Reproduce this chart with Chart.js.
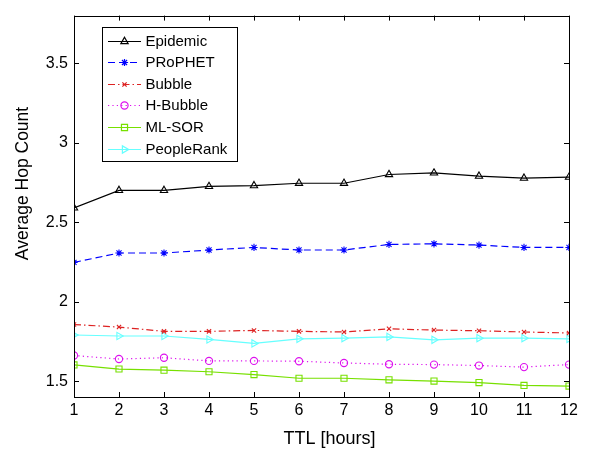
<!DOCTYPE html>
<html><head><meta charset="utf-8">
<script src="https://cdn.jsdelivr.net/npm/chart.js@4"></script>
<style>html,body{margin:0;padding:0;background:#fff}#wrap{width:590px;height:449px;position:relative}</style>
</head><body><div id="wrap"><canvas id="c" width="590" height="449"></canvas></div>
<script>
const ttl = [1,2,3,4,5,6,7,8,9,10,11,12];
const yTickValues = [1.5, 2, 2.5, 3, 3.5];
const epidemic   = [2.59, 2.70, 2.70, 2.725, 2.73, 2.745, 2.745, 2.80, 2.81, 2.79, 2.777, 2.783];
const prophet    = [2.247, 2.306, 2.306, 2.325, 2.341, 2.325, 2.325, 2.36, 2.364, 2.356, 2.341, 2.341];
const bubble     = [1.856, 1.84, 1.813, 1.813, 1.819, 1.813, 1.809, 1.829, 1.821, 1.817, 1.809, 1.803];
const hBubble    = [1.661, 1.639, 1.647, 1.627, 1.627, 1.625, 1.614, 1.606, 1.604, 1.598, 1.588, 1.604];
const mlSor      = [1.602, 1.576, 1.569, 1.559, 1.541, 1.518, 1.518, 1.508, 1.50, 1.491, 1.473, 1.469];
const peopleRank = [1.79, 1.784, 1.784, 1.762, 1.737, 1.766, 1.77, 1.778, 1.76, 1.77, 1.77, 1.766];
const seriesNames = ['Epidemic', 'PRoPHET', 'Bubble', 'H-Bubble', 'ML-SOR', 'PeopleRank'];
const xTitle = 'TTL [hours]';
const yTitle = 'Average Hop Count';

const toPts = arr => ttl.map((t, i) => ({x: t, y: arr[i]}));
const styles = [
  {color: '#000000', dash: [], point: 'triangle', r: 4.2, rot: 0},
  {color: '#0000ff', dash: [7, 4], point: 'star', r: 3.6, rot: 0},
  {color: '#dd2222', dash: [7, 3, 1.5, 3], point: 'crossRot', r: 3, rot: 0},
  {color: '#dd11ee', dash: [1.2, 3.2], point: 'circle', r: 3.6, rot: 0},
  {color: '#77e000', dash: [], point: 'rect', r: 4.3, rot: 0},
  {color: '#66ffff', dash: [], point: 'triangle', r: 4.2, rot: 90}
];
const allData = [epidemic, prophet, bubble, hBubble, mlSor, peopleRank];
const datasets = allData.map((arr, i) => ({
  label: seriesNames[i],
  data: toPts(arr),
  borderColor: styles[i].color,
  backgroundColor: 'rgba(0,0,0,0)',
  borderWidth: 1.2,
  borderDash: styles[i].dash,
  pointStyle: styles[i].point,
  pointRadius: styles[i].r,
  pointRotation: styles[i].rot,
  pointBorderColor: styles[i].color,
  pointBackgroundColor: 'rgba(0,0,0,0)',
  pointBorderWidth: 1.1,
  tension: 0,
  fill: false
}));

const FONT = '"Liberation Sans", Arial, sans-serif';
const frame = {
  id: 'frame',
  afterDatasetsDraw(chart) {
    const {ctx, chartArea: a} = chart;
    const xs = chart.scales.x, ys = chart.scales.y;
    ctx.save();
    ctx.strokeStyle = '#000';
    ctx.lineWidth = 1;
    ctx.setLineDash([]);
    ctx.strokeRect(Math.round(a.left) + 0.5, Math.round(a.top) + 0.5, Math.round(a.right - a.left), Math.round(a.bottom - a.top));
    const tl = 5;
    ctx.beginPath();
    ttl.forEach(v => {
      const px = Math.round(xs.getPixelForValue(v)) + 0.5;
      ctx.moveTo(px, a.bottom); ctx.lineTo(px, a.bottom - tl);
      ctx.moveTo(px, a.top); ctx.lineTo(px, a.top + tl);
    });
    yTickValues.forEach(v => {
      const py = Math.round(ys.getPixelForValue(v)) + 0.5;
      ctx.moveTo(a.left, py); ctx.lineTo(a.left + tl, py);
      ctx.moveTo(a.right, py); ctx.lineTo(a.right - tl, py);
    });
    ctx.stroke();
    ctx.restore();
  },
  afterDraw(chart) {
    const {ctx} = chart;
    ctx.save();
    // axis titles
    ctx.fillStyle = '#000';
    ctx.font = '18px ' + FONT;
    ctx.textAlign = 'center';
    ctx.textBaseline = 'alphabetic';
    ctx.fillText(xTitle, 329.5, 443.5);
    ctx.save();
    ctx.translate(27.5, 183.5);
    ctx.rotate(-Math.PI / 2);
    ctx.font = '17.5px ' + FONT;
    ctx.fillText(yTitle, 0, 0);
    ctx.restore();
    // legend
    const bx = 102, by = 27, bw = 135, bh = 134;
    ctx.fillStyle = '#fff';
    ctx.fillRect(bx, by, bw, bh);
    ctx.strokeStyle = '#000';
    ctx.lineWidth = 1;
    ctx.strokeRect(bx + 0.5, by + 0.5, bw, bh);
    const rowY0 = 40.5, rowStep = 21.6;
    chart.data.datasets.forEach((ds, i) => {
      const y = Math.round(rowY0 + i * rowStep) + 0.5;
      ctx.strokeStyle = ds.borderColor;
      ctx.lineWidth = 1.2;
      ctx.setLineDash(ds.borderDash);
      ctx.beginPath();
      ctx.moveTo(108, y); ctx.lineTo(141, y);
      ctx.stroke();
      ctx.setLineDash([]);
      ctx.fillStyle = 'rgba(0,0,0,0)';
      Chart.helpers.drawPoint(ctx, {
        pointStyle: ds.pointStyle, radius: ds.pointRadius, rotation: ds.pointRotation,
        borderWidth: 1.1
      }, 124.5, y);
      ctx.fillStyle = '#000';
      ctx.font = '15px ' + FONT;
      ctx.textBaseline = 'middle';
      ctx.textAlign = 'left';
      ctx.fillText(ds.label, 145.5, y + 0.5);
    });
    ctx.restore();
  }
};

const tickFont = {family: FONT, size: 16};
new Chart(document.getElementById('c'), {
  type: 'line',
  data: {datasets},
  options: {
    responsive: false,
    devicePixelRatio: 1,
    animation: false,
    events: [],
    layout: {padding: {left: 0, right: 21, top: 6, bottom: 0}},
    plugins: {legend: {display: false}, tooltip: {enabled: false}},
    scales: {
      x: {
        type: 'linear', min: 1, max: 12,
        afterBuildTicks: s => { s.ticks = ttl.map(v => ({value: v})); },
        afterFit: s => { s.height = 52; },
        grid: {display: false, drawTicks: false},
        border: {display: false},
        ticks: {color: '#000', font: tickFont, padding: 4, maxRotation: 0, autoSkip: false},
        title: {display: false}
      },
      y: {
        type: 'linear', min: 1.4, max: 3.8,
        afterBuildTicks: s => { s.ticks = yTickValues.map(v => ({value: v})); },
        afterFit: s => { s.width = 74; },
        grid: {display: false, drawTicks: false},
        border: {display: false},
        ticks: {color: '#000', font: tickFont, padding: 6, callback: v => String(v)},
        title: {display: false}
      }
    }
  },
  plugins: [frame]
});
</script>
</body></html>
